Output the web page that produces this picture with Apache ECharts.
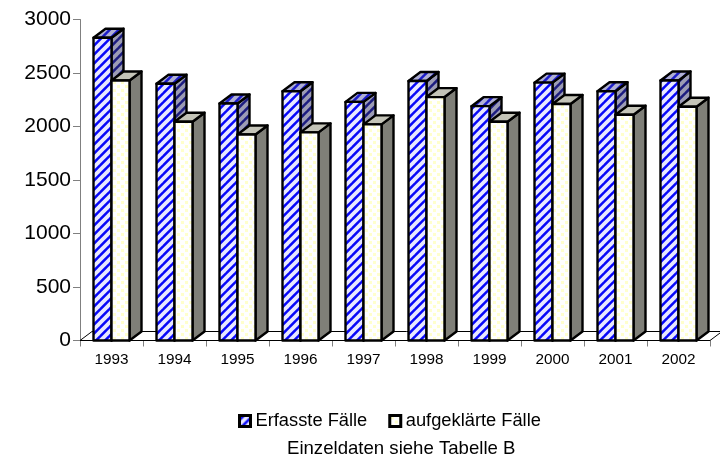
<!DOCTYPE html>
<html lang="de">
<head>
<meta charset="UTF-8">
<title>Fälle</title>
<script src="https://cdn.jsdelivr.net/npm/echarts@6/dist/echarts.min.js"></script>
<style>
    html, body { margin: 0; padding: 0; background: #fff; }
    #chart { width: 720px; height: 457px; }
</style>
</head>
<body>
<div id="chart"></div>
<script>
    var years = ['1993', '1994', '1995', '1996', '1997', '1998', '1999', '2000', '2001', '2002'];
    var erfasst = [2830, 2400, 2215, 2330, 2230, 2425, 2190, 2410, 2330, 2430];
    var aufgeklaert = [2430, 2045, 1925, 1945, 2020, 2275, 2045, 2210, 2110, 2185];
    var yTicks = [0, 500, 1000, 1500, 2000, 2500, 3000];

    var FONT = '"Liberation Sans", Arial, sans-serif';
    var DX = 12, DY = 9, BAR = 18;

    // diagonal stripes, 9px repeat
    function stripes(c1, c2) {
        var n = 9;
        var cv = document.createElement('canvas');
        cv.width = n; cv.height = n;
        var g = cv.getContext('2d');
        g.fillStyle = c1;
        g.fillRect(0, 0, n, n);
        g.strokeStyle = c2;
        g.lineWidth = 3.8;
        [[-n, n, n, -n], [0, n, n, 0], [0, 2 * n, 2 * n, 0]].forEach(function (p) {
            g.beginPath(); g.moveTo(p[0], p[1]); g.lineTo(p[2], p[3]); g.stroke();
        });
        return { image: cv, repeat: 'repeat' };
    }
    function dots() {
        var cv = document.createElement('canvas');
        cv.width = 8; cv.height = 8;
        var g = cv.getContext('2d');
        g.fillStyle = '#ffffff';
        g.fillRect(0, 0, 8, 8);
        g.fillStyle = '#ffffcc';
        g.fillRect(1, 1, 3, 3);
        g.fillRect(5, 5, 3, 3);
        return { image: cv, repeat: 'repeat' };
    }

    var blueFront = stripes('#0808f8', '#e8e8ff');
    var blueTop = stripes('#1c1cc8', '#b0b0d4');
    var blueSide = stripes('#1c1c80', '#9c9cb4');
    var whiteFront = dots();

    function box(slot, front, top, side) {
        return function (params, api) {
            var base = api.coord([api.value(0), 0]);
            var head = api.coord([api.value(0), api.value(1)]);
            var x0 = base[0] + slot * BAR;
            var x1 = x0 + BAR;
            var yb = base[1], yt = head[1];
            var line = { stroke: '#000', lineWidth: 2.4, lineJoin: 'round' };
            function poly(pts, fill) {
                return { type: 'polygon', shape: { points: pts }, style: Object.assign({ fill: fill }, line) };
            }
            return {
                type: 'group',
                children: [
                    poly([[x1, yb], [x1 + DX, yb - DY], [x1 + DX, yt - DY], [x1, yt]], side),
                    poly([[x0, yt], [x0 + DX, yt - DY], [x1 + DX, yt - DY], [x1, yt]], top),
                    poly([[x0, yb], [x1, yb], [x1, yt], [x0, yt]], front)
                ]
            };
        };
    }

    function renderFloor(params, api) {
        var s = api.size([1, 0]);
        var a = api.coord([0, 0]);
        var b = api.coord([years.length - 1, 0]);
        var l = a[0] - s[0] / 2, r = b[0] + s[0] / 2;
        return {
            type: 'polygon',
            shape: { points: [[l, a[1]], [l + DX, a[1] - DY], [r + DX, a[1] - DY], [r, a[1]]] },
            style: { fill: '#fff', stroke: '#000', lineWidth: 1 }
        };
    }

    var chart = echarts.init(document.getElementById('chart'), null, { renderer: 'canvas' });
    chart.setOption({
        animation: false,
        backgroundColor: '#fff',
        grid: { left: 80, top: 19.5, width: 630, height: 321 },
        legend: {
            left: 238,
            top: 412,
            padding: 0,
            itemWidth: 11,
            itemHeight: 11,
            itemGap: 21,
            textStyle: { fontFamily: FONT, fontSize: 18.3, color: '#000' },
            data: [
                { name: 'Erfasste Fälle', icon: 'rect', itemStyle: { color: blueFront, borderColor: '#000', borderWidth: 3 } },
                { name: 'aufgeklärte Fälle', icon: 'rect', itemStyle: { color: whiteFront, borderColor: '#000', borderWidth: 3 } }
            ]
        },
        title: {
            text: 'Einzeldaten siehe Tabelle B',
            left: 287,
            top: 439,
            padding: 0,
            textStyle: { fontFamily: FONT, fontSize: 18.6, fontWeight: 'normal', color: '#000' }
        },
        xAxis: {
            type: 'category',
            data: years,
            boundaryGap: true,
            axisLine: { lineStyle: { color: '#808080', width: 1 } },
            axisTick: { show: true, alignWithLabel: false, interval: 0, length: 6, lineStyle: { color: '#808080' } },
            axisLabel: { fontFamily: FONT, fontSize: 15.3, color: '#000', margin: 12, interval: 0 }
        },
        yAxis: {
            type: 'value',
            min: 0,
            max: yTicks[yTicks.length - 1],
            interval: yTicks[1],
            splitLine: { show: false },
            axisLine: { show: true, lineStyle: { color: '#808080', width: 1 } },
            axisTick: { show: true, length: 7, lineStyle: { color: '#808080' } },
            axisLabel: { fontFamily: FONT, fontSize: 21, color: '#000', margin: 9, padding: [2, 0, 0, 0], formatter: function (v) { return String(v); } }
        },
        series: [
            { type: 'custom', name: 'floor', silent: true, z: 1, data: [[0, 0]], renderItem: renderFloor, encode: { x: 0, y: 1 } },
            {
                type: 'custom', name: 'Erfasste Fälle', z: 2, encode: { x: 0, y: 1 },
                itemStyle: { color: blueFront },
                renderItem: box(-1, blueFront, blueTop, blueSide),
                data: erfasst.map(function (v, i) { return [i, v]; })
            },
            {
                type: 'custom', name: 'aufgeklärte Fälle', z: 3, encode: { x: 0, y: 1 },
                itemStyle: { color: whiteFront },
                renderItem: box(0, whiteFront, '#c4c4b8', '#7f7f78'),
                data: aufgeklaert.map(function (v, i) { return [i, v]; })
            }
        ]
    });
</script>
</body>
</html>
